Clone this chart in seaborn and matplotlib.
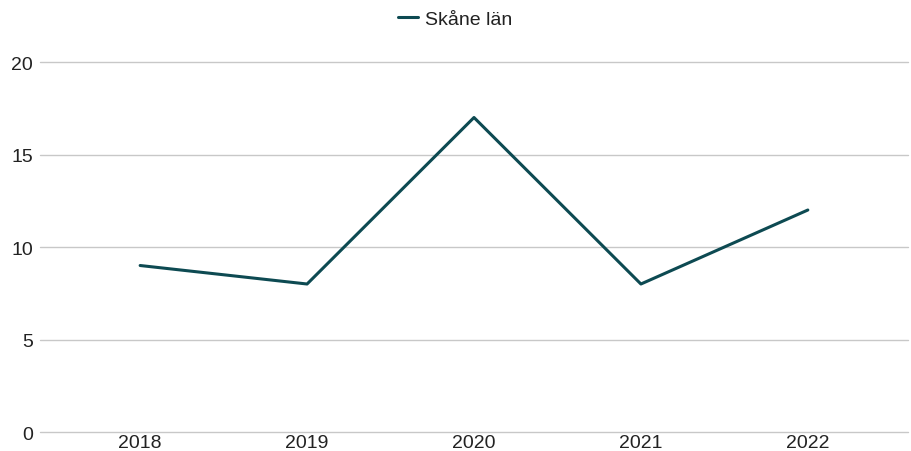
import matplotlib
matplotlib.use("Agg")
import matplotlib.pyplot as plt
import seaborn as sns
import pandas as pd

years = ["2018", "2019", "2020", "2021", "2022"]
values = [9, 8, 17, 8, 12]
series_name = "Skåne län"
yticks = [0, 5, 10, 15, 20]

df = pd.DataFrame({"year": years, "value": values, "series": series_name})

sns.set_style("white")
plt.rcParams["font.family"] = ["Liberation Sans", "DejaVu Sans"]

fig = plt.figure(figsize=(9.11, 4.52), dpi=100)
ax = fig.add_axes([0.0439, 0.042, 0.9528, 0.8186])

sns.lineplot(data=df, x="year", y="value", hue="series", palette=["#0d4a52"],
             linewidth=2.2, ax=ax, sort=False)

ax.set_ylim(0, 20)
ax.set_xlim(-0.6, 4.6)
ax.set_yticks(yticks)
ax.set_yticklabels([str(t) for t in yticks])
ax.yaxis.grid(True, color="#c8c8c8", linewidth=1.0)
for gl in ax.get_ygridlines():
    gl.set_clip_on(False)
ax.xaxis.grid(False)
for s in ax.spines.values():
    s.set_visible(False)
ax.tick_params(axis="both", length=0, labelsize=14, colors="#222222")
ax.tick_params(axis="y", pad=5)
ax.tick_params(axis="x", pad=1.5)
ax.set_xlabel("")
ax.set_ylabel("")
ax.set_axisbelow(True)

handles, labels = ax.get_legend_handles_labels()
ax.get_legend().remove()
leg = fig.legend(handles, labels, loc="center", bbox_to_anchor=(0.5, 1 - 20 / 452),
                 frameon=False, fontsize=14, handlelength=1.0, handletextpad=0.4)
for t in leg.get_texts():
    t.set_color("#222222")

fig.savefig("out.png", dpi=100)
